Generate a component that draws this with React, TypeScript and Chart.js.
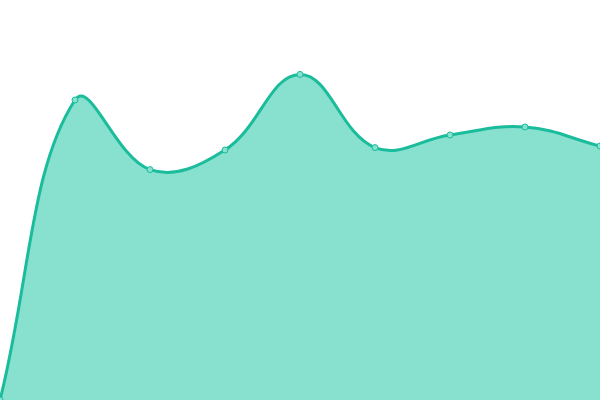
import * as React from 'react';
import {useRef, useEffect} from 'react';
import {Chart, registerables} from 'chart.js';

Chart.register(...registerables);

const labels = ['A', 'B', 'C', 'D', 'E', 'F', 'G', 'H', 'I'];
const values = [0, 75, 57.6, 62.5, 81.4, 63.1, 66.25, 68.25, 63.5];

const lineColor = '#1abc9c';
const fillColor = '#88e0cf';

function AreaChart(): JSX.Element {
  const chartContainer = useRef<HTMLCanvasElement>(null);

  useEffect(() => {
    if (!chartContainer.current) return;
    const chart = new Chart(chartContainer.current, {
      type: 'line',
      data: {
        labels,
        datasets: [{
          data: values,
          borderColor: lineColor,
          backgroundColor: fillColor,
          borderWidth: 3,
          fill: 'origin',
          tension: 0.4,
          pointRadius: 3,
          pointBorderWidth: 1,
          pointBackgroundColor: fillColor,
          pointBorderColor: lineColor,
        }],
      },
      options: {
        animation: false,
        responsive: true,
        maintainAspectRatio: false,
        layout: {padding: 0, autoPadding: false},
        plugins: {legend: {display: false}, tooltip: {enabled: false}},
        scales: {
          x: {display: false, offset: false},
          y: {display: false, min: 0, max: 100},
        },
      },
    });
    return () => chart.destroy();
  }, []);

  return (
    <div style={{position: 'fixed', left: 0, top: 0, width: 600, height: 400}}>
      <canvas ref={chartContainer} />
    </div>
  );
}

export default function App(): JSX.Element {
  return <AreaChart />;
}
